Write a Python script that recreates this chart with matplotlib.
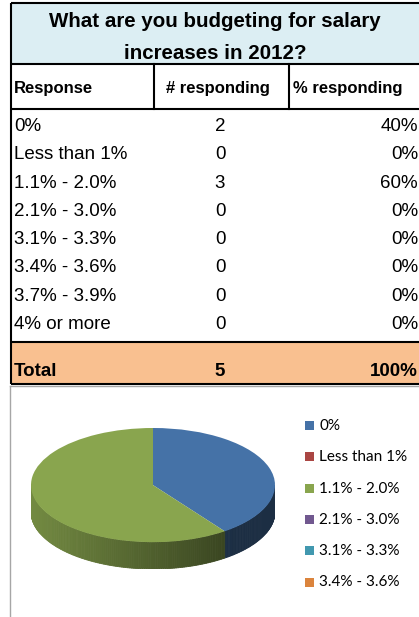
import numpy as np
import matplotlib
matplotlib.use("Agg")
import matplotlib.pyplot as plt
from matplotlib.patches import Rectangle
from matplotlib.colors import to_rgb

# Données du tableau
title_lines = ["What are you budgeting for salary", "increases in 2012?"]
headers = ["Response", "# responding", "% responding"]
responses = ["0%", "Less than 1%", "1.1% - 2.0%", "2.1% - 3.0%",
             "3.1% - 3.3%", "3.4% - 3.6%", "3.7% - 3.9%", "4% or more"]
counts = [2, 0, 3, 0, 0, 0, 0, 0]
pct_labels = ["40%", "0%", "60%", "0%", "0%", "0%", "0%", "0%"]
total_label = ["Total", "5", "100%"]

# Couleurs Excel 2007
colors = ["#4572A7", "#AA4643", "#89A54E", "#71588F",
          "#4198AF", "#DB843D", "#93A9CF", "#D19392"]
n_legend = 6  # seules 6 entrées visibles

W, H = 419, 617
fig = plt.figure(figsize=(W / 100, H / 100), dpi=100)
ax = fig.add_axes([0, 0, 1, 1])
ax.set_xlim(0, W)
ax.set_ylim(H, 0)
ax.axis("off")

tfont = "Liberation Sans"
lw = 1.5

# Fond du titre et de la ligne total
ax.add_patch(Rectangle((11, 3), W, 61, facecolor="#DCEEF3", edgecolor="none"))
ax.add_patch(Rectangle((11, 342), W, 42, facecolor="#F9C090", edgecolor="none"))

# Lignes horizontales
for y in [3, 64, 109, 342, 384]:
    ax.plot([11, W + 5], [y, y], color="black", lw=lw, solid_capstyle="butt")
ax.plot([11, 11], [3, 384], color="black", lw=lw, solid_capstyle="butt")
for x in [154, 289]:
    ax.plot([x, x], [64, 109], color="black", lw=lw)

# Titre
for i, line in enumerate(title_lines):
    ax.text(215, 27 + 32 * i, line, ha="center", va="baseline",
            fontsize=14.8, fontweight="bold", family=tfont)

# En-têtes
ax.text(14, 93, headers[0], ha="left", va="baseline", fontsize=12, fontweight="bold", family=tfont)
ax.text(218, 93, headers[1], ha="center", va="baseline", fontsize=12, fontweight="bold", family=tfont)
ax.text(293, 93, headers[2], ha="left", va="baseline", fontsize=12, fontweight="bold", family=tfont)

# Lignes de données
for i, (r, c, p) in enumerate(zip(responses, counts, pct_labels)):
    yb = 131 + 28.3 * i
    ax.text(14, yb, r, ha="left", va="baseline", fontsize=13.5, family=tfont)
    ax.text(220, yb, str(c), ha="center", va="baseline", fontsize=13.5, family=tfont)
    ax.text(418, yb, p, ha="right", va="baseline", fontsize=13.5, family=tfont)

# Total
ax.text(14, 376, total_label[0], ha="left", va="baseline", fontsize=13.5, fontweight="bold", family=tfont)
ax.text(220, 376, total_label[1], ha="center", va="baseline", fontsize=13.5, fontweight="bold", family=tfont)
ax.text(418, 376, total_label[2], ha="right", va="baseline", fontsize=13.5, fontweight="bold", family=tfont)

# Cadre du graphique
ax.plot([10, 10], [386, H], color="#A6A6A6", lw=1)
ax.plot([10, W], [386, 386], color="#A6A6A6", lw=1)

# Camembert 3D (ellipse + épaisseur)
depth = 0.47
pie_ax = fig.add_axes([31 / W, (H - 569) / H, 244 / W, (569 - 428) / H])
wedges, _ = pie_ax.pie(counts, colors=colors, startangle=90, counterclock=False,
                       radius=1, wedgeprops=dict(linewidth=0))
pie_ax.set_aspect("auto")
pie_ax.set_xlim(-1, 1)
pie_ax.set_ylim(-1 - depth, 1)

for w, c in zip(wedges, colors):
    if w.theta2 - w.theta1 <= 0:
        continue
    base = np.array(to_rgb(c))
    angs = np.arange(w.theta1, w.theta2 + 0.01, 1.0)
    for a0, a1 in zip(angs[:-1], angs[1:]):
        am = np.radians((a0 + a1) / 2)
        if np.sin(am) > 0:
            continue
        t0, t1 = np.radians(a0), np.radians(a1)
        xs = [np.cos(t0), np.cos(t1), np.cos(t1), np.cos(t0)]
        ys = [np.sin(t0), np.sin(t1), np.sin(t1) - depth, np.sin(t0) - depth]
        f = max(0.84 - 0.525 * (np.cos(am) + 1) / 2, 0.4)
        col = base * f
        pie_ax.fill(xs, ys, color=col, lw=0.6, zorder=0.5)

# Légende
lfont = "Lato"
for i in range(n_legend):
    yb = 430 + 31.3 * i
    ax.add_patch(Rectangle((305, yb - 9), 9, 9, facecolor=colors[i], edgecolor="none"))
    ax.text(319, yb, responses[i], ha="left", va="baseline", fontsize=11, family=lfont)

fig.savefig("out.png", dpi=100)
